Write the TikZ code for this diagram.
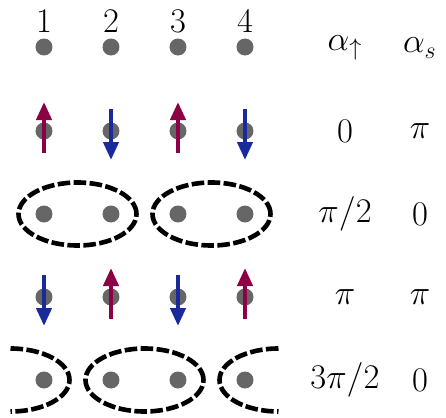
\documentclass[tikz,border=0pt]{standalone}
\usetikzlibrary{arrows.meta,calc}
\definecolor{upcol}{RGB}{140,0,70}
\definecolor{downcol}{RGB}{26,42,155}
\definecolor{dotcol}{RGB}{102,102,102}
\tikzset{
  site/.style={circle,fill=dotcol,inner sep=0pt,minimum size=8.5pt},
  lbl/.style={font=\LARGE,inner sep=0pt},
  spinup/.style={line width=2.1pt,upcol,-{Triangle[length=9pt,width=7.5pt]}},
  spindown/.style={line width=2.1pt,downcol,-{Triangle[length=9pt,width=7.5pt]}},
  bond/.style={line width=2.3pt,black,dash pattern=on 6.3pt off 1.7pt}
}
\begin{document}
\begin{tikzpicture}[x=0.5pt,y=-0.5pt]
\useasboundingbox (0,0) rectangle (446,418);
% sites
\foreach \r/\yy in {1/47,2/131,3/214,4/297,5/380}{
  \foreach \c/\xx in {1/44,2/111,3/178,4/245}{
    \node[site] (d\r\c) at (\xx,\yy) {};
  }
}
% site numbers
\foreach \c in {1,2,3,4}{
  \node[lbl] (n\c) at ([yshift=13pt]d1\c.center) {$\c$};
}
% right labels
\node[lbl] (a1) at (345,48) {$\alpha_{\uparrow}$};
\node[lbl] (b1) at (420,48) {$\alpha_{s}$};
\node[lbl] (a2) at (345,131) {$0$};
\node[lbl] (b2) at (420,131) {$\pi$};
\node[lbl] (a3) at (345,214) {$\pi/2$};
\node[lbl] (b3) at (420,214) {$0$};
\node[lbl] (a4) at (345,297) {$\pi$};
\node[lbl] (b4) at (420,297) {$\pi$};
\node[lbl] (a5) at (345,380) {$3\pi/2$};
\node[lbl] (b5) at (420,380) {$0$};
% spins row 2
\foreach \c in {1,3}{
  \draw[spinup] ([yshift=-11pt]d2\c.center) -- ([yshift=14.5pt]d2\c.center);
}
\foreach \c in {2,4}{
  \draw[spindown] ([yshift=11pt]d2\c.center) -- ([yshift=-14.5pt]d2\c.center);
}
% spins row 4
\foreach \c in {2,4}{
  \draw[spinup] ([yshift=-11pt]d4\c.center) -- ([yshift=14.5pt]d4\c.center);
}
\foreach \c in {1,3}{
  \draw[spindown] ([yshift=11pt]d4\c.center) -- ([yshift=-14.5pt]d4\c.center);
}
% dimers row 3
\draw[bond] ($(d31)!0.5!(d32)$) ellipse [x radius=29.5pt,y radius=15.75pt];
\draw[bond] ($(d33)!0.5!(d34)$) ellipse [x radius=29.5pt,y radius=15.75pt];
% dimers row 5
\draw[bond] ($(d52)!0.5!(d53)$) ellipse [x radius=29.5pt,y radius=15.75pt];
\draw[bond] ([xshift=-16.75pt,yshift=15.75pt]d51.center) arc[start angle=90,end angle=-90,x radius=29.5pt,y radius=15.75pt];
\draw[bond] ([xshift=16.75pt,yshift=15.75pt]d54.center) arc[start angle=90,end angle=270,x radius=29.5pt,y radius=15.75pt];
\end{tikzpicture}
\end{document}
